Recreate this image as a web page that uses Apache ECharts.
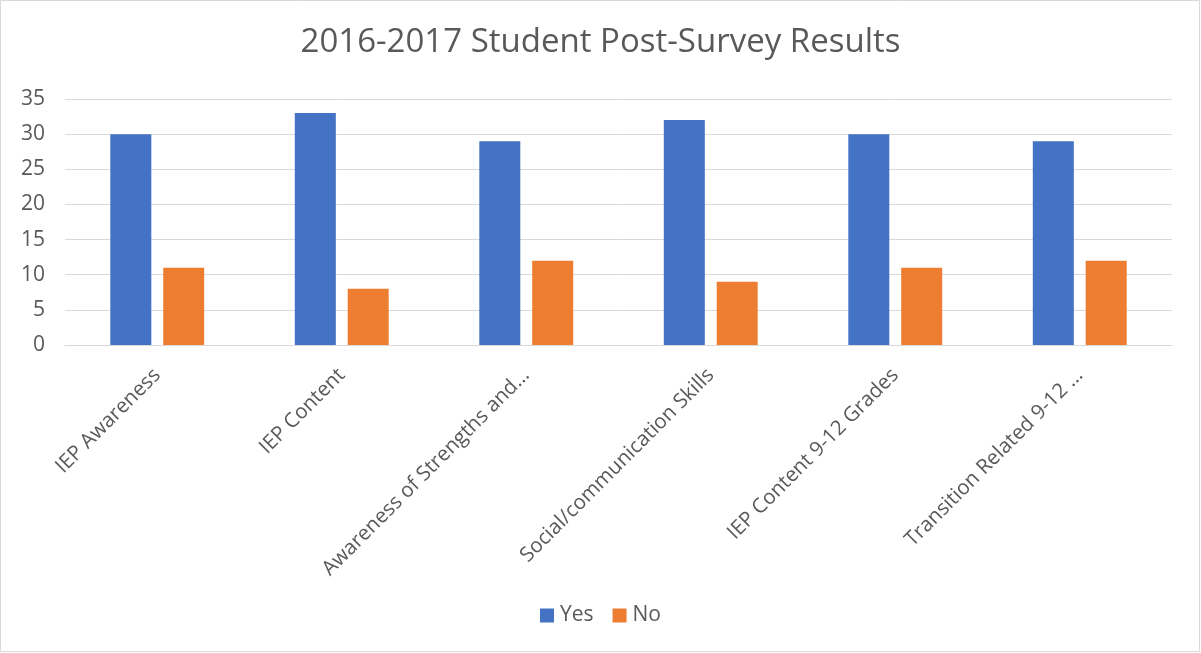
<!DOCTYPE html>
<html>
<head>
<meta charset="utf-8">
<script src="https://cdn.jsdelivr.net/npm/echarts@6/dist/echarts.min.js"></script>
<style>html,body{margin:0;padding:0;background:#fff;}#c{width:1201px;height:653px;}</style>
</head>
<body>
<div id="c"></div>
<script>
const categories = ["IEP Awareness", "IEP Content", "Awareness of Strengths and...", "Social/communication Skills", "IEP Content 9-12 Grades", "Transition Related 9-12 ..."];
const yesValues = [30, 33, 29, 32, 30, 29];
const noValues = [11, 8, 12, 9, 11, 12];
const yTicks = [0, 5, 10, 15, 20, 25, 30, 35];

const font = "'Open Sans', 'Liberation Sans', sans-serif";
const chart = echarts.init(document.getElementById('c'));
chart.setOption({
  animation: false,
  backgroundColor: '#fff',
  graphic: [{
    type: 'rect', shape: { x: 0.5, y: 0.5, width: 1199, height: 651 },
    style: { fill: 'none', stroke: '#d9d9d9', lineWidth: 1 }, silent: true
  }],
  title: {
    text: '2016-2017 Student Post-Survey Results',
    left: 'center', top: 21,
    textStyle: { fontFamily: font, fontSize: 33, fontWeight: 'normal', color: '#595959' }
  },
  legend: {
    top: 600, left: 'center', itemWidth: 14, itemHeight: 14, itemGap: 19,
    icon: 'rect',
    textStyle: { fontFamily: font, fontSize: 21, color: '#595959', padding: [0, 0, 0, 1] },
    data: ['Yes', 'No']
  },
  grid: { left: 65, right: 29, top: 99, bottom: 308, containLabel: false },
  xAxis: {
    type: 'category', data: categories,
    axisLine: { lineStyle: { color: '#d9d9d9', width: 1 } },
    axisTick: { show: false },
    axisLabel: {
      rotate: 45, interval: 0, margin: 27,
      fontFamily: font, fontSize: 20.5, color: '#595959'
    }
  },
  yAxis: {
    type: 'value', min: yTicks[0], max: yTicks[yTicks.length - 1], interval: 5,
    axisLine: { show: false }, axisTick: { show: false },
    splitLine: { lineStyle: { color: '#d9d9d9', width: 1 } },
    axisLabel: { fontFamily: font, fontSize: 21, color: '#595959', margin: 20 }
  },
  series: [
    { name: 'Yes', type: 'bar', data: yesValues, barWidth: 41, barGap: '29%', itemStyle: { color: '#4472c4' } },
    { name: 'No', type: 'bar', data: noValues, barWidth: 41, itemStyle: { color: '#ed7d31' } }
  ]
});
</script>
</body>
</html>
